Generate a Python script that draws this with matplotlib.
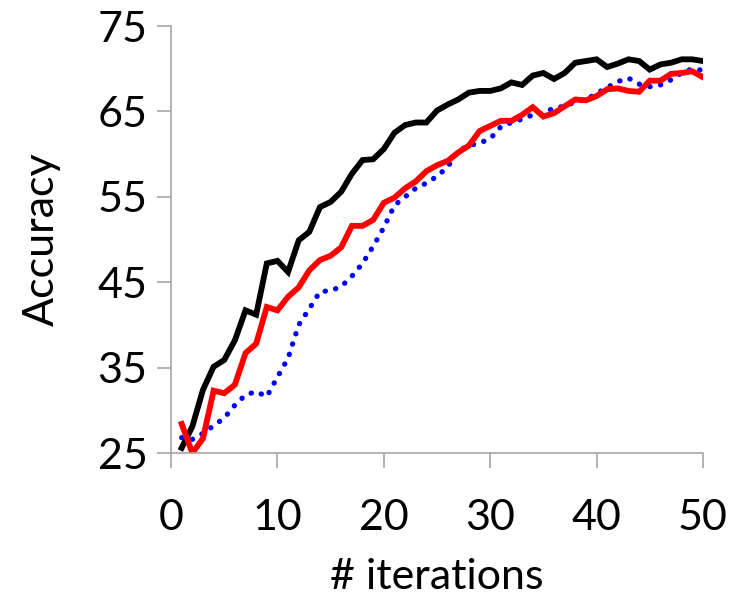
import matplotlib.pyplot as plt
import numpy as np

plt.rcParams['font.family'] = ['Lato', 'DejaVu Sans']

iterations = np.arange(1, 51)

black = [25.6, 28.1, 32.4, 35.1, 35.9, 38.2, 41.7, 41.2, 47.2, 47.5,
         46.2, 49.9, 50.9, 53.8, 54.4, 55.6, 57.7, 59.3, 59.4, 60.6,
         62.5, 63.4, 63.7, 63.7, 65.1, 65.8, 66.4, 67.2, 67.4, 67.4,
         67.7, 68.4, 68.1, 69.2, 69.5, 68.8, 69.5, 70.7, 70.9, 71.1,
         70.2, 70.6, 71.1, 70.9, 69.9, 70.5, 70.7, 71.1, 71.1, 70.9]

red = [28.4, 25.0, 26.7, 32.3, 32.0, 33.0, 36.7, 37.8, 42.1, 41.7,
       43.3, 44.4, 46.4, 47.6, 48.1, 49.1, 51.6, 51.6, 52.3, 54.3,
       54.9, 56.0, 56.8, 58.0, 58.7, 59.2, 60.2, 61.0, 62.7, 63.3,
       63.9, 63.9, 64.6, 65.5, 64.4, 64.8, 65.6, 66.4, 66.3, 66.8,
       67.6, 67.7, 67.4, 67.3, 68.6, 68.6, 69.4, 69.5, 69.7, 69.0]

blue = [26.8, 26.6, 27.3, 28.2, 29.1, 30.6, 31.8, 32.2, 31.6, 33.9,
        36.1, 40.0, 41.9, 43.9, 44.0, 44.5, 45.7, 47.2, 49.2, 51.4,
        54.0, 55.0, 56.0, 56.6, 57.4, 58.5, 60.4, 61.0, 61.3, 61.8,
        63.2, 63.7, 64.1, 64.6, 64.8, 65.4, 65.6, 66.1, 66.4, 67.1,
        67.8, 68.5, 68.9, 68.2, 67.9, 68.1, 68.7, 69.5, 70.0, 69.8]

fig = plt.figure(figsize=(7.31, 5.97), dpi=100)
ax = fig.add_axes([0.234, 0.2412, 0.7276, 0.7152])

ax.plot(iterations, blue, color='#0000FF', linewidth=3.8,
        linestyle=(0, (0.05, 2.0)), dash_capstyle='round')
ax.plot(iterations, black, color='black', linewidth=4.2, solid_joinstyle='miter')
ax.plot(iterations, red, color='#FF0000', linewidth=4.2, solid_joinstyle='miter')

ax.set_xlim(0, 50)
ax.set_ylim(25, 75)
ax.set_xticks([0, 10, 20, 30, 40, 50])
ax.set_yticks([25, 35, 45, 55, 65, 75])

for s in ['top', 'right']:
    ax.spines[s].set_visible(False)
for s in ['left', 'bottom']:
    ax.spines[s].set_color('#A6A6A6')
    ax.spines[s].set_linewidth(1.2)

ax.tick_params(axis='both', colors='#A6A6A6', width=1.2, labelcolor='black',
               labelsize=31)
ax.tick_params(axis='y', length=10, pad=7)
ax.tick_params(axis='x', length=11, pad=22)

ax.set_xlabel('# iterations', fontsize=31, labelpad=15)
ax.set_ylabel('Accuracy', fontsize=31, labelpad=26)

plt.savefig('out.png', dpi=100)
